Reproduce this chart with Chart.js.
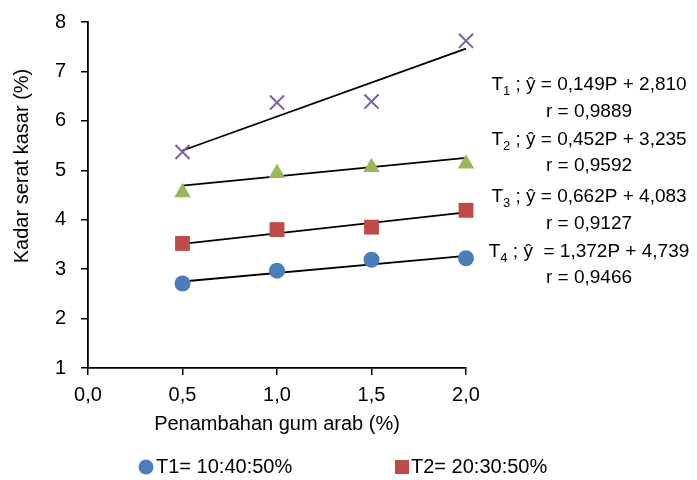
<!DOCTYPE html>
<html>
<head>
<meta charset="utf-8">
<script src="https://cdn.jsdelivr.net/npm/chart.js@4.4.1/dist/chart.umd.min.js"></script>
<style>
  body { margin: 0; background: #fff; }
  #wrap { width: 697px; height: 480px; position: relative; }
</style>
</head>
<body>
<div id="wrap"><canvas id="fiberChart"></canvas></div>
<script>
// data
const xValues = [0.5, 1.0, 1.5, 2.0];
const t1Values = [2.71, 2.97, 3.19, 3.22];
const t2Values = [3.52, 3.80, 3.85, 4.19];
const t3Values = [4.55, 4.94, 5.06, 5.13];
const t4Values = [5.37, 6.37, 6.39, 7.62];

const trendX = [0.5, 2.0];
const t1Trend = [2.75, 3.27];
const t2Trend = [3.51, 4.15];
const t3Trend = [4.69, 5.25];
const t4Trend = [5.40, 7.46];

const seriesNames = ['T1= 10:40:50%', 'T2= 20:30:50%', 'T3= 30:20:50%', 'T4= 40:10:50%'];
const xTicks = [0, 0.5, 1.0, 1.5, 2.0];
const yTicks = [1, 2, 3, 4, 5, 6, 7, 8];

const xTitle = 'Penambahan gum arab (%)';
const yTitle = 'Kadar serat kasar (%)';

// regression notes on the right: [subscript, equation, r]
const eqNotes = [
  ['1', ' ; ŷ = 0,149P + 2,810', 'r = 0,9889'],
  ['2', ' ; ŷ = 0,452P + 3,235', 'r = 0,9592'],
  ['3', ' ; ŷ = 0,662P + 4,083', 'r = 0,9127'],
  ['4', ' ; ŷ  = 1,372P + 4,739', 'r = 0,9466']
];

const FONT = "'Liberation Sans', Arial, sans-serif";
const colors = ['#4A7EBB', '#BE4B48', '#98B954', '#7D5FA0'];

const pts = (xs, ys) => xs.map((x, i) => ({ x: x, y: ys[i] }));

const scatterSet = (label, data, color, style, radius) => ({
  type: 'scatter',
  label: label,
  data: data,
  pointStyle: style,
  pointRadius: radius,
  pointHoverRadius: radius,
  backgroundColor: color,
  borderColor: color,
  borderWidth: style === 'crossRot' ? 2 : 0,
  clip: false,
  order: 1
});

const trendSet = (data) => ({
  type: 'line',
  label: 'trend',
  data: data,
  borderColor: '#000',
  borderWidth: 1.8,
  pointRadius: 0,
  fill: false,
  clip: false,
  order: 2
});

const extras = {
  id: 'extras',
  afterDraw(chart) {
    const ctx = chart.ctx;
    ctx.save();
    ctx.fillStyle = '#000';

    // y axis title
    ctx.save();
    ctx.translate(22, 166);
    ctx.rotate(-Math.PI / 2);
    ctx.font = '20px ' + FONT;
    ctx.textAlign = 'center';
    ctx.textBaseline = 'middle';
    ctx.fillText(yTitle, 0, 0);
    ctx.restore();

    // equations
    const cx = 589;
    const rows = [85, 112, 140, 166, 197, 224, 252, 278];
    ctx.textBaseline = 'middle';
    eqNotes.forEach((n, i) => {
      const y1 = rows[i * 2], y2 = rows[i * 2 + 1];
      ctx.font = '19px ' + FONT;
      const wT = ctx.measureText('T').width;
      const wRest = ctx.measureText(n[1]).width;
      ctx.font = '13px ' + FONT;
      const wSub = ctx.measureText(n[0]).width;
      let x = cx - (wT + wSub + wRest) / 2;
      ctx.textAlign = 'left';
      ctx.font = '19px ' + FONT;
      ctx.fillText('T', x, y1);
      x += wT;
      ctx.font = '13px ' + FONT;
      ctx.fillText(n[0], x, y1 + 6);
      x += wSub;
      ctx.font = '19px ' + FONT;
      ctx.fillText(n[1], x, y1);
      ctx.textAlign = 'center';
      ctx.fillText(n[2], cx, y2);
    });

    // legend (only the first two entries are visible)
    const ly = 467;
    ctx.font = '20px ' + FONT;
    ctx.textAlign = 'left';
    ctx.fillStyle = colors[0];
    ctx.beginPath();
    ctx.arc(146, ly, 7.5, 0, Math.PI * 2);
    ctx.fill();
    ctx.fillStyle = '#000';
    ctx.fillText(seriesNames[0], 156, ly);
    ctx.fillStyle = colors[1];
    ctx.fillRect(395, ly - 7, 14, 14);
    ctx.fillStyle = '#000';
    ctx.fillText(seriesNames[1], 411, ly);
    ctx.restore();
  }
};

const ctx = document.getElementById('fiberChart').getContext('2d');
new Chart(ctx, {
  data: {
    datasets: [
      scatterSet(seriesNames[0], pts(xValues, t1Values), colors[0], 'circle', 8),
      scatterSet(seriesNames[1], pts(xValues, t2Values), colors[1], 'rect', 10.5),
      scatterSet(seriesNames[2], pts(xValues, t3Values), colors[2], 'triangle', 9.5),
      scatterSet(seriesNames[3], pts(xValues, t4Values), colors[3], 'crossRot', 10),
      trendSet(pts(trendX, t1Trend)),
      trendSet(pts(trendX, t2Trend)),
      trendSet(pts(trendX, t3Trend)),
      trendSet(pts(trendX, t4Trend))
    ]
  },
  options: {
    responsive: true,
    maintainAspectRatio: false,
    animation: false,
    layout: { padding: { left: 0, right: 231, top: 22, bottom: 0 } },
    plugins: {
      legend: { display: false },
      tooltip: { enabled: false }
    },
    scales: {
      x: {
        type: 'linear',
        min: 0,
        max: 2,
        afterBuildTicks: s => { s.ticks = xTicks.map(v => ({ value: v })); },
        afterFit: s => { s.height = 112; s.paddingLeft = 0; s.paddingRight = 0; },
        grid: { drawOnChartArea: false, drawTicks: true, tickLength: 7, color: '#000', lineWidth: 1.5 },
        border: { color: '#000', width: 1.8 },
        ticks: {
          color: '#000',
          padding: 8,
          maxRotation: 0,
          font: { family: FONT, size: 20 },
          callback: v => v.toFixed(1).replace('.', ',')
        },
        title: {
          display: true,
          text: xTitle,
          color: '#000',
          font: { family: FONT, size: 20 },
          padding: { top: 0, bottom: 44 }
        }
      },
      y: {
        type: 'linear',
        min: 1,
        max: 8,
        afterBuildTicks: s => { s.ticks = yTicks.map(v => ({ value: v })); },
        afterFit: s => { s.width = 88; s.paddingTop = 0; s.paddingBottom = 0; },
        grid: { drawOnChartArea: false, drawTicks: true, tickLength: 7, color: '#000', lineWidth: 1.5 },
        border: { color: '#000', width: 1.8 },
        ticks: {
          color: '#000',
          padding: 15,
          font: { family: FONT, size: 20 }
        }
      }
    }
  },
  plugins: [extras]
});
</script>
</body>
</html>
